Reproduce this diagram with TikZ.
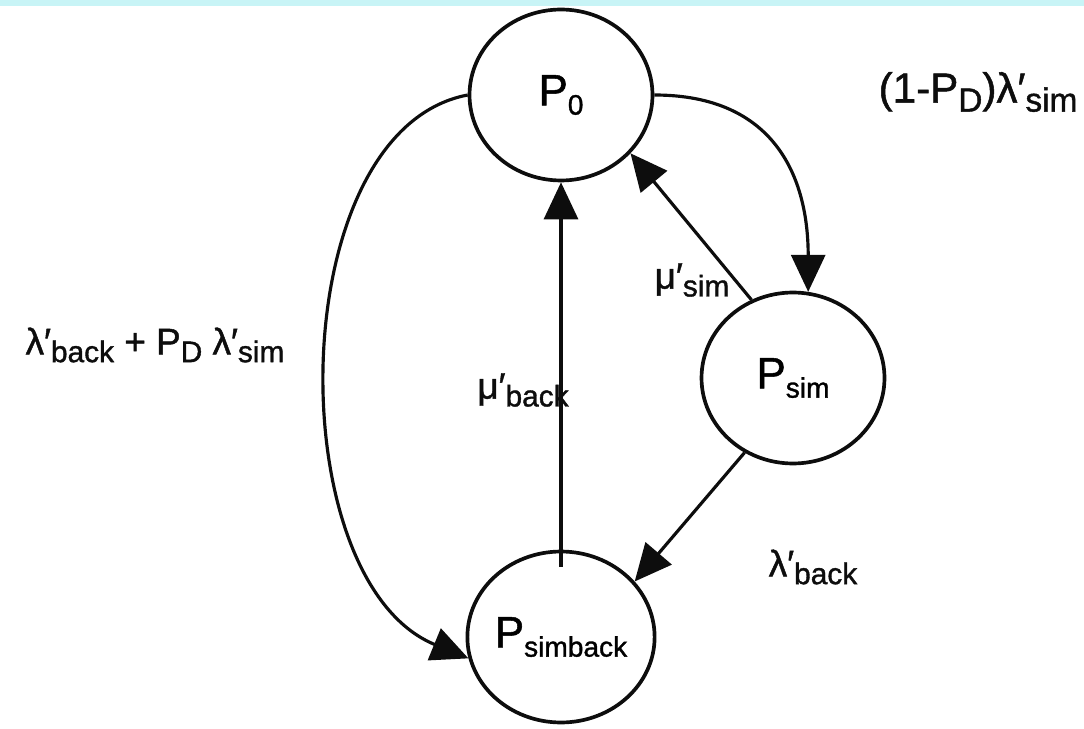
\documentclass[tikz,border=0pt]{standalone}
\usepackage{fontspec}
\setmainfont{Liberation Sans}[FakeBold=1.2]
\usetikzlibrary{arrows.meta,shapes.geometric}
\definecolor{BandCyan}{RGB}{200,244,246}
\definecolor{StateInk}{gray}{0.05}
\newcommand{\LowText}[2]{\raisebox{-0.4ex}{\fontsize{#1}{#1}\selectfont #2}}
\newcommand{\StateSub}[1]{\LowText{16}{#1}}
\newcommand{\RateSub}[1]{\LowText{17}{#1}}

\begin{document}
\begin{tikzpicture}[
  x=0.02cm,y=-0.02cm,
  state/.style={draw=StateInk,ellipse,line width=2.1pt,inner sep=0pt,
                minimum width=3.66cm,minimum height=3.42cm,
                font=\fontsize{25}{30}\selectfont},
  link/.style={draw=StateInk,line width=1.8pt,
               -{Triangle[length=0.74cm,width=0.68cm]}},
  rate/.style={text=StateInk,inner sep=0pt,font=\fontsize{21}{25}\selectfont},
]
  \useasboundingbox (0,0) rectangle (1084,729);
  \fill[BandCyan] (0,0) rectangle (1084,6);

  \node[state] (P0) at (561,95) {P\StateSub{0}};
  \node[state] (Psim) at (793,378) {P\StateSub{sim}};
  \node[state] (Psimback) at (561,637) {P\StateSub{simback}};

  \node[rate,font=\fontsize{24}{28}\selectfont] (rTop) at (978,92)
    {(1-P\LowText{19}{D})λ′\LowText{19}{sim}};
  \node[rate] (rLeft) at (155,345)
    {λ′\RateSub{back} + P\RateSub{D} λ′\RateSub{sim}};
  \node[rate] (rMuSim) at (692,280) {μ′\RateSub{sim}};
  \node[rate] (rMuBack) at (523,390) {μ′\RateSub{back}};
  \node[rate] (rLamBack) at (813,567) {λ′\RateSub{back}};

  \draw[link] (P0.east) .. controls +(120,0) and +(0,-115) .. (Psim.80);
  \draw[link] (Psim.118) -- (P0.-40);
  \draw[link] ([yshift=-0.34cm]Psimback.north) -- (P0.south);
  \draw[link] (Psim.237) -- (Psimback.37);
  \draw[link] (P0.west) .. controls +(-185,35) and +(-190,-78) .. (Psimback.193);
\end{tikzpicture}
\end{document}
